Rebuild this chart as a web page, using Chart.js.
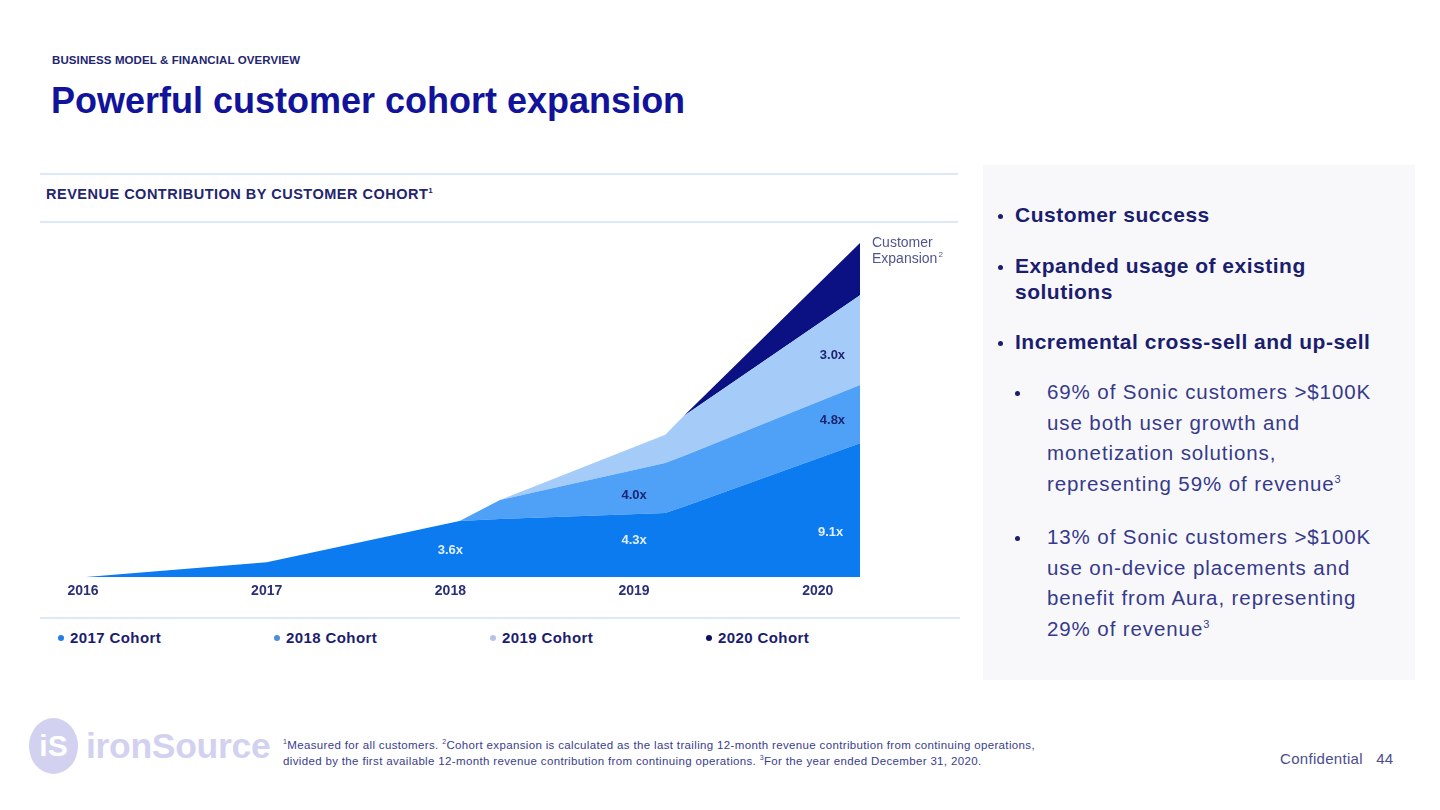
<!DOCTYPE html>
<html>
<head>
<meta charset="utf-8">
<script src="https://cdn.jsdelivr.net/npm/chart.js"></script>
<style>
  html, body { margin: 0; padding: 0; background: #fff; }
  body { width: 1440px; height: 810px; position: relative; overflow: hidden; font-family: "Liberation Sans", Arial, sans-serif; color: #1b1d6e; }
  .abs { position: absolute; }
  .kicker { left: 52px; top: 54px; font-size: 11.5px; font-weight: bold; letter-spacing: 0.1px; color: #23266f; }
  .title { left: 51px; top: 80px; font-size: 36px; font-weight: bold; color: #11149a; letter-spacing: 0; }
  .rule { height: 2px; background: #dfe8f8; }
  .subtitle { left: 46px; top: 186px; font-size: 14.5px; font-weight: bold; color: #23266f; letter-spacing: 0.5px; }
  .subtitle sup { font-size: 8px; }
  #chartBox { left: 53px; top: 233px; width: 907px; height: 377px; }
  #legend { left: 54px; top: 629px; display: flex; }
  #legend .item { width: 216px; display: flex; align-items: center; font-size: 15px; font-weight: bold; color: #1b1d6e; letter-spacing: 0.4px; }
  #legend .dot { width: 6px; height: 6px; border-radius: 50%; margin-right: 6px; margin-left: 4px; }
  .panel { left: 983px; top: 165px; width: 432px; height: 515px; background: #f8f8fb; }
  .b1 { position: absolute; left: 32px; font-size: 21px; font-weight: bold; color: #1b1d6e; line-height: 26px; letter-spacing: 0.5px; white-space: nowrap; }
  .b1::before { content: ""; position: absolute; left: -17px; top: 12px; width: 5px; height: 5px; border-radius: 50%; background: #1b1d6e; }
  .b2 { position: absolute; left: 64px; width: 360px; font-size: 20.5px; color: #363a8c; line-height: 30.5px; letter-spacing: 0.9px; white-space: nowrap; }
  .b2::before { content: ""; position: absolute; left: -32px; top: 14px; width: 5px; height: 5px; border-radius: 50%; background: #1b1d6e; }
  .b2 sup, .b1 sup { font-size: 11px; line-height: 0; }
  .logo-circle { left: 29px; top: 718px; width: 49px; height: 56px; border-radius: 50%; background: #d2d2f0; color: #fff; font-weight: bold; font-size: 30px; text-align: center; line-height: 56px; }
  .logo-text { left: 86px; top: 726px; font-size: 35.5px; font-weight: bold; color: #d2d2f0; letter-spacing: -0.3px; }
  .foot { left: 283px; top: 737px; font-size: 11.5px; line-height: 16px; color: #3a3d8e; letter-spacing: 0.35px; white-space: nowrap; }
  .foot sup { font-size: 7px; line-height: 0; }
  .conf { left: 1280px; top: 750px; font-size: 15px; color: #4a4d8e; letter-spacing: 0.3px; }
</style>
</head>
<body>
<div class="abs kicker">BUSINESS MODEL &amp; FINANCIAL OVERVIEW</div>
<div class="abs title">Powerful customer cohort expansion</div>
<div class="abs rule" style="left:40px; top:173px; width:918px;"></div>
<div class="abs subtitle">REVENUE CONTRIBUTION BY CUSTOMER COHORT<sup>1</sup></div>
<div class="abs rule" style="left:40px; top:221px; width:918px;"></div>
<div class="abs" id="chartBox"><canvas id="cohortChart"></canvas></div>
<div class="abs rule" style="left:40px; top:617px; width:920px;"></div>
<div class="abs" id="legend"></div>

<div class="abs panel">
  <div class="b1" style="top:37px;">Customer success</div>
  <div class="b1" style="top:88px;">Expanded usage of existing<br>solutions</div>
  <div class="b1" style="top:164px;">Incremental cross-sell and up-sell</div>
  <div class="b2" style="top:212px;">69% of Sonic customers &gt;$100K<br>use both user growth and<br>monetization solutions,<br>representing 59% of revenue<sup>3</sup></div>
  <div class="b2" style="top:357px;">13% of Sonic customers &gt;$100K<br>use on-device placements and<br>benefit from Aura, representing<br>29% of revenue<sup>3</sup></div>
</div>

<div class="abs logo-circle">iS</div>
<div class="abs logo-text">ironSource</div>
<div class="abs foot"><sup>1</sup>Measured for all customers. <sup>2</sup>Cohort expansion is calculated as the last trailing 12-month revenue contribution from continuing operations,<br>divided by the first available 12-month revenue contribution from continuing operations. <sup>3</sup>For the year ended December 31, 2020.</div>
<div class="abs conf">Confidential&nbsp;&nbsp;&nbsp;44</div>

<script>
// x axis labels
const years = [2016, 2017, 2018, 2019, 2020];
// points in time where the stacked areas change slope
const periods = [2016.0, 2017.0, 2018.05, 2018.27, 2019.17, 2019.27, 2020.23];

// revenue contribution per cohort (relative units)
const cohort2017 = [0, 4.5, 16.8, 17.4, 19.2, 21.1, 40.1];
const cohort2018 = [0, 0, 0, 5.7, 15.0, 15.2, 17.4];
const cohort2019 = [0, 0, 0, 0, 8.4, 11.9, 26.9];
const cohort2020 = [0, 0, 0, 0, 0, 0, 15.6];

const cohortNames = ["2017 Cohort", "2018 Cohort", "2019 Cohort", "2020 Cohort"];
const cohortColors = ["#0b7bef", "#4ea1f6", "#a5ccf8", "#0b1082"];
const dotColors = ["#1f7fe8", "#4f8fd9", "#b8c2e8", "#0b1060"];

// expansion multiples shown inside the areas
const multiples = [
  { cohort: 0, year: 2018.0, text: "3.6x", frac: 0.5 },
  { cohort: 0, year: 2019.0, text: "4.3x", frac: 0.58 },
  { cohort: 1, year: 2019.0, text: "4.0x", frac: 0.43 },
  { cohort: 0, year: 2020.07, text: "9.1x", frac: 0.36 },
  { cohort: 1, year: 2020.08, text: "4.8x", frac: 0.57 },
  { cohort: 2, year: 2020.08, text: "3.0x", frac: 0.5 },
];
const labelOnDark = ["#e3efff", "#1e2470", "#1e2470", "#fff"];

const series = [cohort2017, cohort2018, cohort2019, cohort2020];

// band bottom/top of a cohort at a given year (linear between periods)
function bandAt(cohort, year) {
  let i = 0;
  while (i < periods.length - 2 && periods[i + 1] < year) i++;
  const t = (year - periods[i]) / (periods[i + 1] - periods[i]);
  const val = (arr) => arr[i] + (arr[i + 1] - arr[i]) * t;
  let bottom = 0;
  for (let c = 0; c < cohort; c++) bottom += val(series[c]);
  return { bottom, top: bottom + val(series[cohort]) };
}

const labelPlugin = {
  id: "cohortLabels",
  afterDatasetsDraw(chart) {
    const { ctx, scales: { x, y }, chartArea } = chart;
    ctx.save();
    ctx.font = "bold 13px 'Liberation Sans', Arial, sans-serif";
    ctx.textAlign = "center";
    ctx.textBaseline = "middle";
    multiples.forEach(m => {
      const b = bandAt(m.cohort, m.year);
      const v = b.bottom + (b.top - b.bottom) * m.frac;
      ctx.fillStyle = labelOnDark[m.cohort];
      ctx.fillText(m.text, x.getPixelForValue(m.year), y.getPixelForValue(v));
    });
    // "Customer Expansion" note next to the last point
    const lastTop = series.reduce((s, arr) => s + arr[arr.length - 1], 0);
    const px = chartArea.right + 12;
    const py = y.getPixelForValue(lastTop);
    ctx.textAlign = "left";
    ctx.textBaseline = "top";
    ctx.fillStyle = "#50558f";
    ctx.font = "14px 'Liberation Sans', Arial, sans-serif";
    ctx.fillText("Customer", px, py - 7);
    ctx.fillText("Expansion", px, py + 9);
    const w = ctx.measureText("Expansion").width;
    ctx.font = "8px 'Liberation Sans', Arial, sans-serif";
    ctx.fillText("2", px + w + 1, py + 8);
    ctx.restore();
  }
};

const datasets = series.map((arr, i) => ({
  label: cohortNames[i],
  data: arr.map((v, k) => ({ x: periods[k], y: v })),
  backgroundColor: cohortColors[i],
  borderWidth: 0,
  pointRadius: 0,
  tension: 0,
  fill: i === 0 ? "origin" : "-1",
}));

new Chart(document.getElementById("cohortChart"), {
  type: "line",
  data: { datasets },
  options: {
    responsive: true,
    maintainAspectRatio: false,
    animation: false,
    layout: { padding: { left: 30, right: 100, top: 10, bottom: 4 } },
    plugins: { legend: { display: false }, tooltip: { enabled: false } },
    scales: {
      x: {
        type: "linear",
        min: years[0],
        max: periods[periods.length - 1],
        grid: { display: false, drawTicks: false },
        border: { display: false },
        afterBuildTicks: (scale) => { scale.ticks = years.map(v => ({ value: v })); },
        ticks: {
          padding: 6,
          color: "#2b2f7a",
          font: { family: "'Liberation Sans', Arial, sans-serif", size: 14, weight: "bold" },
          callback: (v) => String(v),
          maxRotation: 0,
        },
      },
      y: { stacked: true, display: false, min: 0, max: 100 },
    },
  },
  plugins: [labelPlugin],
});

// legend
const legend = document.getElementById("legend");
cohortNames.forEach((name, i) => {
  legend.innerHTML += `<div class="item"><span class="dot" style="background:${dotColors[i]}"></span>${name}</div>`;
});
</script>
</body>
</html>
